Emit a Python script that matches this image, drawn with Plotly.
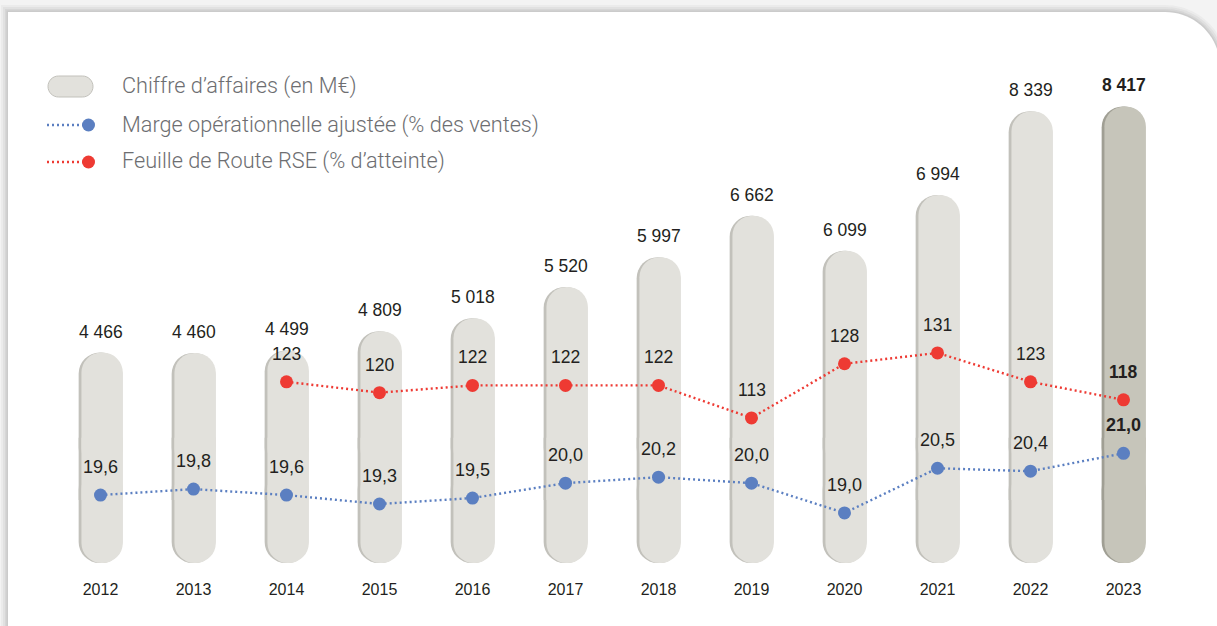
import plotly.graph_objects as go

# ---------------- data ----------------
years = ["2012", "2013", "2014", "2015", "2016", "2017", "2018", "2019", "2020", "2021", "2022", "2023"]
revenue = [4466, 4460, 4499, 4809, 5018, 5520, 5997, 6662, 6099, 6994, 8339, 8417]
margin_pct = [19.6, 19.8, 19.6, 19.3, 19.5, 20.0, 20.2, 20.0, 19.0, 20.5, 20.4, 21.0]
rse_pct = [None, None, 123, 120, 122, 122, 122, 113, 128, 131, 123, 118]

legend_labels = [
    "Chiffre d’affaires (en M€)",
    "Marge opérationnelle ajustée (% des ventes)",
    "Feuille de Route RSE (% d’atteinte)",
]

# ---------------- style ----------------
FIG_W, FIG_H = 1217, 626
L, R, T, B = 54, 47, 40, 50
PW, PH = FIG_W - L - R, FIG_H - T - B

BLUE = "#5b7fc1"
RED = "#ee3a33"
TXT = "#231f20"
LEG_TXT = "#6d6e71"
NUM_FONT = "Liberation Sans, Arial, sans-serif"

BAR_FLOOR = 1088      # value at which the pill ends at the bottom
BAR_MID = 2600        # split point of the two halves of each pill


def px(x):
    return (x - L) / PW


def py(y):
    return 1 - (y - T) / PH


def fmt_thousands(v):
    return f"{v:,}".replace(",", " ")


def fmt_dec(v):
    return f"{v:.1f}".replace(".", ",")


n = len(years)
last = n - 1
idx = list(range(n))

fig = go.Figure()

# pills: a darker layer (left inner shadow) and a lighter layer on top
layers = [
    (["#a09f94" if i == last else "#c2c1bb" for i in idx], 0.47, -0.235),
    (["#c6c5ba" if i == last else "#e2e1dc" for i in idx], 0.445, -0.205),
]
for colors, w, off in layers:
    common = dict(x=years, width=w, offset=off, hoverinfo="skip", showlegend=False)
    # upper part, rounded top
    fig.add_trace(go.Bar(y=[v - BAR_MID for v in revenue], base=[BAR_MID] * n,
                         marker=dict(color=colors, line=dict(width=0), cornerradius="50%"), **common))
    # lower part, rounded bottom
    fig.add_trace(go.Bar(y=[BAR_FLOOR - BAR_MID] * n, base=[BAR_MID] * n,
                         marker=dict(color=colors, line=dict(width=0), cornerradius="50%"), **common))
    # middle joint, square
    fig.add_trace(go.Bar(y=[1000] * n, base=[BAR_MID - 500] * n,
                         marker=dict(color=colors, line=dict(width=0), cornerradius=0), **common))

fig.add_trace(go.Scatter(
    x=years, y=margin_pct, yaxis="y2", mode="lines+markers",
    line=dict(color=BLUE, width=2.4, dash="2px,3px"),
    marker=dict(color=BLUE, size=13), showlegend=False, hoverinfo="skip",
))
fig.add_trace(go.Scatter(
    x=years, y=rse_pct, yaxis="y3", mode="lines+markers",
    line=dict(color=RED, width=2.4, dash="2px,3px"),
    marker=dict(color=RED, size=13), showlegend=False, hoverinfo="skip",
))

annotations = []
for i, v in enumerate(revenue):
    t = fmt_thousands(v)
    annotations.append(dict(
        x=i, y=v, xref="x", yref="y", text=f"<b>{t}</b>" if i == last else t,
        showarrow=False, yanchor="middle", yshift=21,
        font=dict(family=NUM_FONT, size=17.5, color=TXT),
    ))
for i, v in enumerate(margin_pct):
    t = fmt_dec(v)
    annotations.append(dict(
        x=i, y=v, xref="x", yref="y2", text=f"<b>{t}</b>" if i == last else t,
        showarrow=False, yanchor="middle", yshift=28,
        font=dict(family=NUM_FONT, size=18, color=TXT),
    ))
for i, v in enumerate(rse_pct):
    if v is None:
        continue
    t = str(v)
    annotations.append(dict(
        x=i, y=v, xref="x", yref="y3", text=f"<b>{t}</b>" if i == last else t,
        showarrow=False, yanchor="middle", yshift=28,
        font=dict(family=NUM_FONT, size=17.5, color=TXT),
    ))

# legend texts
for lbl, yc in zip(legend_labels, [86, 125, 161]):
    annotations.append(dict(
        x=px(120), y=py(yc), xref="paper", yref="paper", text=lbl,
        showarrow=False, xanchor="left", yanchor="middle",
        font=dict(family="Roboto, sans-serif", size=21.7, color=LEG_TXT, weight=300),
    ))

# ---------------- background card & legend icons ----------------
K = 0.5523


def card_path(d):
    x0, y0 = 8 - d, 12 - d
    r = 55 + d
    cx = 1165
    x1 = cx + r
    pts = [
        f"M {px(x0)},{py(y0)}",
        f"L {px(cx)},{py(y0)}",
        f"C {px(cx + K * r)},{py(y0)} {px(x1)},{py(y0 + r - K * r)} {px(x1)},{py(y0 + r)}",
        f"L {px(x1)},{py(700)}",
        f"L {px(x0)},{py(700)}",
        "Z",
    ]
    return " ".join(pts)


def pill_path(x0, x1, y0, y1):
    r = (y1 - y0) / 2
    ym = (y0 + y1) / 2
    return " ".join([
        f"M {px(x0 + r)},{py(y0)}",
        f"L {px(x1 - r)},{py(y0)}",
        f"C {px(x1 - r + K * r)},{py(y0)} {px(x1)},{py(ym - K * r)} {px(x1)},{py(ym)}",
        f"C {px(x1)},{py(ym + K * r)} {px(x1 - r + K * r)},{py(y1)} {px(x1 - r)},{py(y1)}",
        f"L {px(x0 + r)},{py(y1)}",
        f"C {px(x0 + r - K * r)},{py(y1)} {px(x0)},{py(ym + K * r)} {px(x0)},{py(ym)}",
        f"C {px(x0)},{py(ym - K * r)} {px(x0 + r - K * r)},{py(y0)} {px(x0 + r)},{py(y0)}",
        "Z",
    ])


shapes = []
for d, op in [(7, 0.06), (5, 0.08), (3, 0.10), (1.5, 0.12)]:
    shapes.append(dict(type="path", path=card_path(d), xref="paper", yref="paper",
                       fillcolor=f"rgba(120,120,120,{op})", line=dict(width=0), layer="below"))
shapes.append(dict(type="path", path=card_path(0), xref="paper", yref="paper",
                   fillcolor="white", line=dict(width=0), layer="below"))

# legend pill
shapes.append(dict(type="path", path=pill_path(48, 93, 76, 97), xref="paper", yref="paper",
                   fillcolor="#e2e1dc", line=dict(width=1, color="#c2c1bb")))
# legend lines + dots
for col, yc in [(BLUE, 125), (RED, 162)]:
    shapes.append(dict(type="line", x0=px(47), x1=px(84), y0=py(yc), y1=py(yc),
                       xref="paper", yref="paper", line=dict(color=col, width=2.4, dash="2px,3px")))
    shapes.append(dict(type="circle", x0=px(82), x1=px(95), y0=py(yc - 6.5), y1=py(yc + 6.5),
                       xref="paper", yref="paper", fillcolor=col, line=dict(width=0)))

fig.update_layout(
    width=FIG_W, height=FIG_H,
    margin=dict(l=L, r=R, t=T, b=B, pad=0),
    paper_bgcolor="#f3f3f3", plot_bgcolor="rgba(0,0,0,0)",
    barmode="overlay", showlegend=False,
    xaxis=dict(type="category", range=[-0.5, n - 0.5], showgrid=False, zeroline=False,
               showline=False, ticks="", tickfont=dict(family=NUM_FONT, size=16, color=TXT),
               ticklabelstandoff=2, fixedrange=True),
    yaxis=dict(range=[879, 9483], visible=False, fixedrange=True),
    yaxis2=dict(range=[16.884, 34.87], overlaying="y", visible=False, fixedrange=True),
    yaxis3=dict(range=[69.2, 217.7], overlaying="y", visible=False, fixedrange=True),
    annotations=annotations, shapes=shapes,
)

fig.write_html("out.html", config={"displayModeBar": False},
               post_script="document.body.style.margin='0';document.body.style.overflow='hidden';")
